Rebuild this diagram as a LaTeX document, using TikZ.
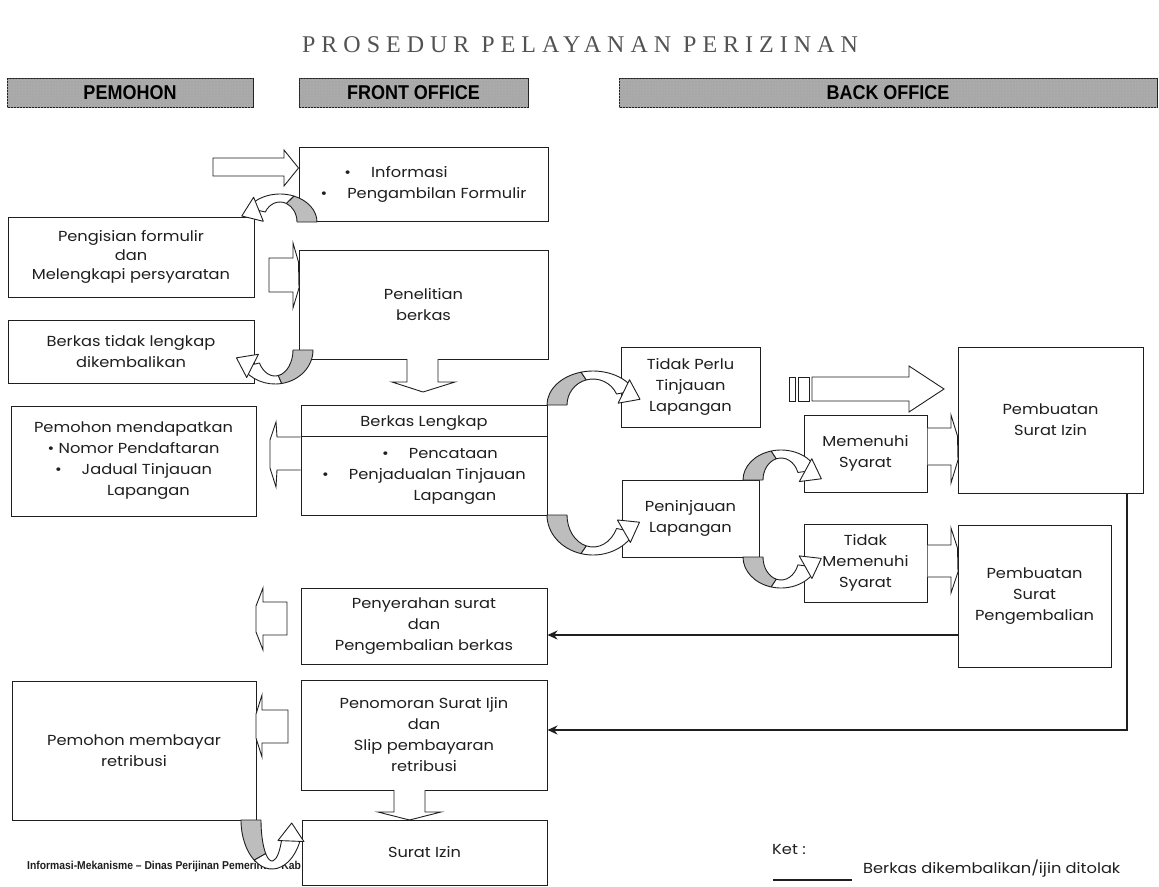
\documentclass[tikz,border=0pt]{standalone}
\usepackage{fontspec}
\setmainfont{Poppins}[FakeStretch=1.12]
\newfontfamily\ttlfont[LetterSpace=25]{Liberation Serif}
\newfontfamily\hdrfont[FakeStretch=0.9]{Liberation Sans}
\newfontfamily\ftfont[FakeStretch=0.9]{Liberation Sans}
\usetikzlibrary{arrows.meta,patterns,calc}
\newcommand\myfont{\fontsize{14.5}{21}\selectfont}
\definecolor{ink}{gray}{0.12}
\definecolor{shade}{gray}{0.74}
\definecolor{barfill}{gray}{0.66}

% curved ribbon arrow: cx, cy(image), rx, ry, a0, a1 (end of shaded part), a2 (end), head rotation
\newcommand\curvarr[8]{%
  \pgfmathsetmacro\cvX{#1}%
  \pgfmathsetmacro\cvY{-(#2)}%
  \pgfmathsetmacro\cvRxo{#3+10}\pgfmathsetmacro\cvRyo{#4+4}%
  \pgfmathsetmacro\cvRxi{#3-10}\pgfmathsetmacro\cvRyi{#4-4}%
  \draw[band, fill=shade] ({\cvX+\cvRxo*cos(#5)},{\cvY+\cvRyo*sin(#5)}) arc[start angle=#5, end angle=#6, x radius=\cvRxo, y radius=\cvRyo] -- ({\cvX+\cvRxi*cos(#6)},{\cvY+\cvRyi*sin(#6)}) arc[start angle=#6, end angle=#5, x radius=\cvRxi, y radius=\cvRyi] -- cycle;
  \draw[band, fill=white] ({\cvX+\cvRxo*cos(#6)},{\cvY+\cvRyo*sin(#6)}) arc[start angle=#6, end angle=#7, x radius=\cvRxo, y radius=\cvRyo] -- ({\cvX+\cvRxi*cos(#7)},{\cvY+\cvRyi*sin(#7)}) arc[start angle=#7, end angle=#6, x radius=\cvRxi, y radius=\cvRyi] -- cycle;
  \pgfmathsetmacro\cvPx{\cvX+(#3)*cos(#7)}%
  \pgfmathsetmacro\cvPy{\cvY+(#4)*sin(#7)}%
  \pgfmathsetmacro\cvS{ifthenelse(#7>#6,1,-1)}%
  \pgfmathsetmacro\cvTx{-(#3)*sin(#7)*(\cvS)}%
  \pgfmathsetmacro\cvTy{(#4)*cos(#7)*(\cvS)}%
  \pgfmathsetmacro\cvA{atan2(\cvTy,\cvTx)+(#8)}%
  \draw[band, fill=white, shift={(\cvPx,\cvPy)}, rotate=\cvA] (-2,-13) -- (16,0) -- (-2,13) -- cycle;
}

\begin{document}
\begin{tikzpicture}[x=1pt,y=1pt,
  box/.style={draw=ink, line width=1pt, fill=white, inner sep=0pt, align=center, font=\myfont, text=ink},
  hdr/.style={draw=ink, line width=1pt, fill=barfill, inner sep=0pt, minimum height=29pt,
    font=\hdrfont\bfseries\fontsize{20}{20}\selectfont, text=black,
    postaction={pattern=crosshatch dots, pattern color=black!30}},
  blk/.style={draw=ink, line width=0.9pt, fill=white, line join=miter},
  ret/.style={draw=ink, line width=2.6pt, -{Stealth[length=10pt,width=9pt]}},
  band/.style={draw=ink, line width=0.9pt, line join=round},
  legend/.style={font=\myfont, text=ink, anchor=west, inner sep=0pt}]
\useasboundingbox (0,0) rectangle (1159,-886);

% title
\node[font=\ttlfont\fontsize{24}{24}\selectfont, text=black!68] (title) at (580,-45) {PROSEDUR PELAYANAN PERIZINAN};

% header bars
\node[hdr, minimum width=246pt] (hpem) at (130,-92.5) {PEMOHON};
\node[hdr, minimum width=229pt] (hfront) at (413.5,-92.5) {FRONT OFFICE};
\node[hdr, minimum width=538pt] (hback) at (888,-92.5) {BACK OFFICE};

% footnote (partly hidden under the Surat Izin box)
\node[font=\ftfont\bfseries\fontsize{11.5}{11.5}\selectfont, text=ink, anchor=west, inner sep=0pt] (foot) at (27,-867) {Informasi-Mekanisme – Dinas Perijinan Pemerintah Kab};

% boxes
\node[box, minimum width=249pt, minimum height=74pt] (info) at (423.5,-184)
  {\textbullet\hspace{20pt}Informasi\hspace*{55pt}\\ \textbullet\hspace{20pt}Pengambilan Formulir};
\node[box, minimum width=246pt, minimum height=80pt, font=\fontsize{14.5}{19}\selectfont] (pengisian) at (131,-257)
  {Pengisian formulir\\dan\\Melengkapi persyaratan};
\node[box, minimum width=249pt, minimum height=109pt] (penelitian) at (423.5,-304.5) {Penelitian\\berkas};
\node[box, minimum width=246pt, minimum height=63pt] (tlengkap) at (131,-351.5) {Berkas tidak lengkap\\dikembalikan};
\node[box, minimum width=245pt, minimum height=110pt] (mendapat) at (133.5,-461)
  {Pemohon mendapatkan\\ \textbullet\ Nomor Pendaftaran\\ \textbullet\hspace{20pt}Jadual Tinjauan\\ \hspace*{30pt}Lapangan};
\node[box, minimum width=246pt, minimum height=110pt] (berkas) at (424,-460)
  {Berkas Lengkap\\[11pt] \hspace*{32pt}\textbullet\hspace{20pt}Pencataan\\ \textbullet\hspace{20pt}Penjadualan Tinjauan\\ \hspace*{62pt}Lapangan};
\draw[ink, line width=1pt] (berkas.north west) ++(0,-32) -- ++(246,0);
\node[box, minimum width=139pt, minimum height=80pt] (tperlu) at (690.5,-387) {Tidak Perlu\\Tinjauan\\Lapangan};
\node[box, minimum width=137pt, minimum height=77pt] (peninjauan) at (690.5,-518.5) {Peninjauan\\Lapangan};
\node[box, minimum width=123pt, minimum height=77pt] (memenuhi) at (865.5,-453.5) {Memenuhi\\Syarat};
\node[box, minimum width=123pt, minimum height=78pt] (tmemenuhi) at (865.5,-563) {Tidak\\Memenuhi\\Syarat};
\node[box, minimum width=185pt, minimum height=146pt] (buatizin) at (1050.5,-420) {Pembuatan\\Surat Izin};
\node[box, minimum width=153pt, minimum height=142pt] (buatkembali) at (1034.5,-596) {Pembuatan\\Surat\\Pengembalian};
\node[box, minimum width=246pt, minimum height=76pt] (penyerahan) at (424,-626) {Penyerahan surat\\dan\\Pengembalian berkas};
\node[box, minimum width=246pt, minimum height=110pt] (penomoran) at (424,-735) {Penomoran Surat Ijin\\dan\\Slip pembayaran\\retribusi};
\node[box, minimum width=244pt, minimum height=139pt] (membayar) at (134,-750.5) {Pemohon membayar\\retribusi};
\node[box, minimum width=245pt, minimum height=65pt] (suratizin) at (424.5,-852.5) {Surat Izin};

% block arrows
\draw[blk] (213,-158) -- (284,-158) -- (284,-150) -- (info.west |- 0,-168) -- (284,-186) -- (284,-176) -- (213,-176) -- cycle;
\draw[blk] (269,-258) -- (293,-258) -- (293,-243) -- (penelitian.west |- 0,-262) -- (299,-288) -- (293,-308) -- (293,-292) -- (269,-292) -- cycle;
\draw[blk] (407,-359) -- (407,-382) -- (392,-382) -- (423,-392) -- (455,-382) -- (438,-382) -- (438,-359);
\draw[blk] (berkas.west |- 0,-437) -- (277,-437) -- (276,-422) -- (270,-440) -- (270,-468) -- (276,-487) -- (277,-470) -- (berkas.west |- 0,-470);
\draw[blk] (287,-602) -- (263,-602) -- (263,-588) -- (256,-606) -- (256,-632) -- (263,-650) -- (263,-635) -- (287,-635) -- cycle;
\draw[blk] (288,-710) -- (262,-710) -- (262,-695) -- (256,-714) -- (256,-738) -- (262,-757) -- (262,-743) -- (288,-743) -- cycle;
\draw[blk] (memenuhi.east |- 0,-428) -- (951,-428) -- (951,-415) -- (buatizin.west |- 0,-436) -- (958,-460) -- (951,-483) -- (951,-465) -- (memenuhi.east |- 0,-465);
\draw[blk] (tmemenuhi.east |- 0,-545) -- (951,-545) -- (951,-528) -- (buatkembali.west |- 0,-548) -- (958,-572) -- (951,-593) -- (951,-577) -- (tmemenuhi.east |- 0,-577);
\draw[blk] (789,-377) rectangle (795,-401);
\draw[blk] (798,-377) rectangle (809,-401);
\draw[blk] (812,-377) -- (909,-377) -- (909,-366) -- (944,-389) -- (909,-412) -- (909,-401) -- (812,-401) -- cycle;
\draw[blk] (394,-790) -- (394,-812) -- (378,-812) -- (409.5,-820) -- (441,-812) -- (425,-812) -- (425,-790);

% curved ribbon arrows
\curvarr{280}{222}{27}{24}{0}{68}{150}{-35}
\curvarr{275}{350}{28}{30}{0}{-80}{-150}{35}
\curvarr{593}{405}{36}{30}{180}{105}{25}{35}
\curvarr{593}{515}{36}{36}{180}{255}{335}{-35}
\curvarr{781}{480}{28}{26}{180}{105}{20}{40}
\curvarr{781}{557}{28}{27}{180}{255}{340}{-40}
\curvarr{272}{820}{21}{45}{180}{235}{335}{10}

% return lines
\coordinate (r1) at (958,-635);
\draw[ret] (r1) -- (r1 -| penyerahan.east);
\coordinate (r2) at (1127,-493);
\draw[ret] (r2) |- (penomoran.east |- 0,-730);

% legend
\node[legend] (ket) at (772,-850) {Ket :};
\coordinate (lg1) at (773,-880);
\coordinate (lg2) at (852,-880);
\draw[ink, line width=1.2pt] (lg1) -- (lg2);
\node[legend] (ketdesc) at (863,-869) {Berkas dikembalikan/ijin ditolak};
\end{tikzpicture}
\end{document}
